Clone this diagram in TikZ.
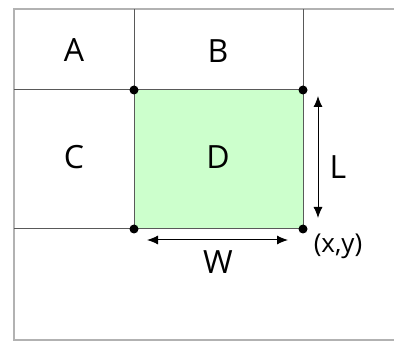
\documentclass[tikz,border=0pt]{standalone}
\usepackage{fontspec}
\setmainfont{Open Sans}
\usetikzlibrary{arrows.meta}
\definecolor{cellgreen}{RGB}{204,255,204}
\tikzset{
  grid line/.style={gray!70!black,line width=1pt},
  frame line/.style={gray!60,line width=1.8pt},
  corner/.style={circle,fill=black,inner sep=0pt,minimum size=9pt},
  dim arrow/.style={black,line width=1pt,{Latex[length=11pt,width=9pt]}-{Latex[length=11pt,width=9pt]}},
  cell label/.style={font=\fontsize{32}{34}\selectfont},
}
\begin{document}
\begin{tikzpicture}[x=1pt,y=-1pt]
\useasboundingbox (0,0) rectangle (394,342);
% outer frame
\draw[frame line] (394,9) -- (14,9) -- (14,340) -- (394,340);
% green cell
\fill[cellgreen] (134,90) rectangle (303,229);
\draw[grid line] (134,9) -- (134,229);
\draw[grid line] (303,9) -- (303,229);
\draw[grid line] (14,90) -- (303,90);
\draw[grid line] (14,229) -- (303,229);
% corners
\node[corner] (nw) at (134,90) {};
\node[corner] (ne) at (303,90) {};
\node[corner] (sw) at (134,229) {};
\node[corner] (se) at (303,229) {};
% cell names
\node[cell label] (A) at (74,50) {A};
\node[cell label] (B) at (218,51) {B};
\node[cell label] (C) at (74,157) {C};
\node[cell label] (D) at (218,157) {D};
% sizes
\coordinate (lt) at (318,96);
\coordinate (lb) at (318,218);
\draw[dim arrow] (lt) -- (lb);
\node[cell label] (L) at (338,167) {L};
\coordinate (wl) at (147,240);
\coordinate (wr) at (288,240);
\draw[dim arrow] (wl) -- (wr);
\node[cell label] (W) at (218,262) {W};
\node[font=\fontsize{26}{28}\selectfont] (xy) at (338,246) {(x,y)};
\end{tikzpicture}
\end{document}
